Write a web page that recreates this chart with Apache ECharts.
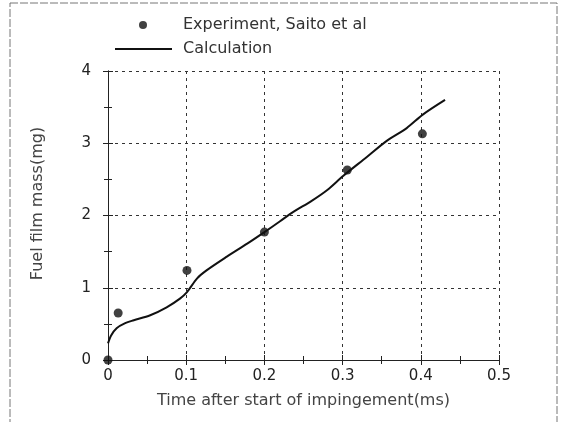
<!DOCTYPE html>
<html>
<head>
<meta charset="utf-8">
<script src="https://cdn.jsdelivr.net/npm/echarts@6/dist/echarts.min.js"></script>
<style>
  html, body { margin: 0; padding: 0; background: #fff; }
  #chart-container { width: 561px; height: 422px; }
</style>
</head>
<body>
<div id="chart-container"></div>
<script>
// measured points (Saito et al)
const expX = [0, 0.013, 0.101, 0.200, 0.306, 0.402]
const expY = [0, 0.65, 1.24, 1.77, 2.63, 3.13]

// calculated curve
const calcX = [0, 0.004, 0.011, 0.022, 0.033, 0.054, 0.075, 0.092, 0.101, 0.114, 0.126, 0.152, 0.178, 0.2, 0.22, 0.237, 0.26, 0.28, 0.301, 0.331, 0.356, 0.382, 0.403, 0.431]
const calcY = [0.23, 0.34, 0.44, 0.51, 0.55, 0.62, 0.73, 0.85, 0.94, 1.13, 1.24, 1.43, 1.61, 1.77, 1.92, 2.05, 2.2, 2.35, 2.55, 2.81, 3.03, 3.21, 3.4, 3.6]

const xTicks = [0, 0.1, 0.2, 0.3, 0.4, 0.5]
const yTicks = [0, 1, 2, 3, 4]

const font = 'DejaVu Sans, sans-serif'

const dom = document.getElementById('chart-container')
const myChart = echarts.init(dom, null, { renderer: 'canvas' })

const pairs = (xs, ys) => xs.map((x, i) => [x, ys[i]])

const tickStyle = { show: true, inside: true, length: 5, lineStyle: { color: '#222' } }
const minorStyle = { show: true, splitNumber: 2, length: 4, lineStyle: { color: '#222' } }
const gridLine = { show: true, lineStyle: { color: '#333', type: [3, 4], width: 1 } }

const options = {
  animation: false,
  backgroundColor: '#fff',
  graphic: [{
    type: 'rect',
    shape: { x: 10, y: 3, width: 547, height: 440 },
    style: { fill: 'none', stroke: '#777', lineWidth: 1, lineDash: [8, 2] },
    silent: true
  }],
  legend: [
    {
      data: ['Experiment, Saito et al'],
      left: 139,
      top: 17,
      padding: 0,
      icon: 'circle',
      itemWidth: 8,
      itemHeight: 8,
      textStyle: { fontFamily: font, fontSize: 16, color: '#333', padding: [0, 0, 0, 31] }
    },
    {
      data: ['Calculation'],
      left: 115,
      top: 41,
      padding: 0,
      icon: 'rect',
      itemWidth: 57,
      itemHeight: 2,
      textStyle: { fontFamily: font, fontSize: 16, color: '#333', padding: [0, 0, 0, 6] }
    }
  ],
  grid: { left: 108, right: 62, top: 71, bottom: 62 },
  xAxis: [
    {
      type: 'value',
      min: xTicks[0],
      max: xTicks[xTicks.length - 1],
      interval: 0.1,
      name: 'Time after start of impingement(ms)',
      nameLocation: 'middle',
      nameGap: 33,
      nameTextStyle: { fontFamily: font, fontSize: 16, color: '#444' },
      axisLine: { show: true, lineStyle: { color: '#222' } },
      axisTick: tickStyle,
      minorTick: minorStyle,
      splitLine: gridLine,
      axisLabel: { fontFamily: font, fontSize: 15, color: '#222', margin: 9, formatter: v => String(v) }
    },
    {
      type: 'value',
      position: 'top',
      min: xTicks[0],
      max: xTicks[xTicks.length - 1],
      interval: 0.1,
      axisLine: { show: true, lineStyle: { color: '#222' } },
      axisTick: tickStyle,
      minorTick: minorStyle,
      splitLine: { show: false },
      axisLabel: { show: false }
    }
  ],
  yAxis: [
    {
      type: 'value',
      min: yTicks[0],
      max: yTicks[yTicks.length - 1],
      interval: 1,
      name: 'Fuel film mass(mg)',
      nameLocation: 'middle',
      nameGap: 62,
      nameTextStyle: { fontFamily: font, fontSize: 16, color: '#444', padding: [0, 0, 0, 24] },
      axisLine: { show: true, lineStyle: { color: '#222' } },
      axisTick: tickStyle,
      minorTick: minorStyle,
      splitLine: gridLine,
      axisLabel: { fontFamily: font, fontSize: 15, color: '#222', margin: 17 }
    },
    {
      type: 'value',
      position: 'right',
      min: yTicks[0],
      max: yTicks[yTicks.length - 1],
      interval: 1,
      axisLine: { show: true, lineStyle: { color: '#222' } },
      axisTick: tickStyle,
      minorTick: minorStyle,
      splitLine: { show: false },
      axisLabel: { show: false }
    }
  ],
  series: [
    {
      name: 'Experiment, Saito et al',
      type: 'scatter',
      symbol: 'circle',
      symbolSize: 9,
      color: '#111',
      data: pairs(expX, expY),
      z: 5
    },
    {
      name: 'Calculation',
      type: 'line',
      smooth: 0.3,
      symbol: 'none',
      color: '#111',
      lineStyle: { width: 2, color: '#111' },
      data: pairs(calcX, calcY)
    }
  ]
}

myChart.setOption(options)
window.addEventListener('resize', myChart.resize)
</script>
</body>
</html>
